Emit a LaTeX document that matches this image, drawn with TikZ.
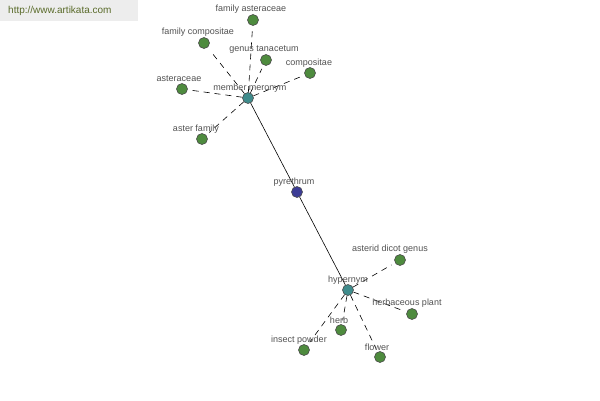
\documentclass[tikz,border=0pt]{standalone}
\usepackage{fontspec}
\setmainfont{Liberation Sans}
\begin{document}
\begin{tikzpicture}[x=1pt,y=-1pt,
  leaf/.style={circle,draw=black!70,fill=leafgreen,minimum size=11pt,inner sep=0pt,line width=0.6pt},
  hub/.style={circle,draw=black!70,fill=hubteal,minimum size=11pt,inner sep=0pt,line width=0.6pt},
  root/.style={circle,draw=black!70,fill=rootblue,minimum size=11pt,inner sep=0pt,line width=0.6pt},
  lbl/.style={font=\fontsize{9}{10}\selectfont,text=black!68,inner sep=0pt},
  dashlink/.style={draw=black,dash pattern=on 6pt off 5pt,line width=0.6pt,shorten >=4pt},
  solidlink/.style={draw=black,line width=0.6pt}]
\definecolor{leafgreen}{HTML}{4E8B3E}
\definecolor{hubteal}{HTML}{3F8C8C}
\definecolor{rootblue}{HTML}{3C3C96}
\definecolor{wmgreen}{HTML}{5A6B2A}
\useasboundingbox[fill=white] (0,0) rectangle (600,400);
\fill[black!7] (0,0) rectangle (138,21);
\node[anchor=west,font=\fontsize{10}{12}\selectfont,text=wmgreen,inner sep=0pt] (wm) at (8,11) {http://www.artikata.com};
% nodes
\node[hub] (mm) at (248,98) {};
\node[root] (py) at (297,192) {};
\node[hub] (hy) at (348,290) {};
\node[leaf] (fa) at (253,20) {};
\node[leaf] (fc) at (204,43) {};
\node[leaf] (gt) at (266,60) {};
\node[leaf] (co) at (310,73) {};
\node[leaf] (as) at (182,89) {};
\node[leaf] (af) at (202,139) {};
\node[leaf] (adg) at (400,260) {};
\node[leaf] (hp) at (412,314) {};
\node[leaf] (he) at (341,330) {};
\node[leaf] (ip) at (304,350) {};
\node[leaf] (fl) at (380,357) {};
% links
\draw[solidlink] (mm) -- (py);
\draw[solidlink] (py) -- (hy);
\foreach \t in {fa,fc,gt,co,as,af} \draw[dashlink] (mm) -- (\t);
\foreach \t in {adg,hp,he,ip,fl} \draw[dashlink] (hy) -- (\t);
% labels
\node[lbl] (lfa) at (251,9) {family asteraceae};
\node[lbl] (lfc) at (198,32) {family compositae};
\node[lbl] (lgt) at (264,50) {genus tanacetum};
\node[lbl] (lco) at (309,63) {compositae};
\node[lbl] (las) at (179,79) {asteraceae};
\node[lbl] (lmm) at (250,88) {member meronym};
\node[lbl] (laf) at (196,129) {aster family};
\node[lbl] (lpy) at (294,182) {pyrethrum};
\node[lbl] (ladg) at (390,249) {asterid dicot genus};
\node[lbl] (lhy) at (348,280) {hypernym};
\node[lbl] (lhp) at (407,303) {herbaceous plant};
\node[lbl] (lhe) at (339,320) {herb};
\node[lbl] (lip) at (299,340) {insect powder};
\node[lbl] (lfl) at (377,347) {flower};
\end{tikzpicture}
\end{document}
